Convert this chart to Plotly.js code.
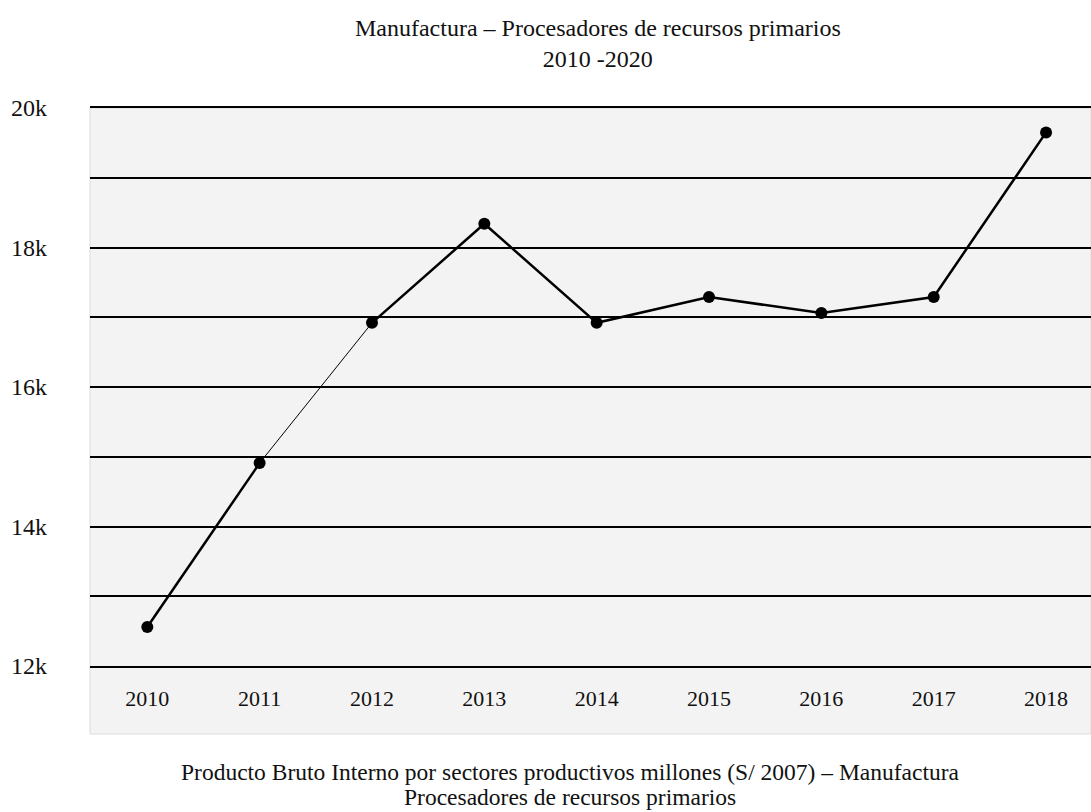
<!DOCTYPE html>
<html>
<head>
<meta charset="utf-8">
<script src="https://cdn.plot.ly/plotly-3.0.1.min.js"></script>
<style>html,body{margin:0;padding:0;background:#fff;}#chart{width:1091px;height:812px;}</style>
</head>
<body>
<div id="chart"></div>
<script>
// Data
const years = [2010, 2011, 2012, 2013, 2014, 2015, 2016, 2017, 2018];
const pbiValues = [12560, 14910, 16920, 18340, 16920, 17290, 17060, 17290, 19650];
const yTickVals = [12000, 13000, 14000, 15000, 16000, 17000, 18000, 19000, 20000];
const yTickText = ['12k', '', '14k', '', '16k', '', '18k', '', '20k'];
const titleText = 'Manufactura – Procesadores de recursos primarios<br>2010 -2020';
const captionLines = [
  'Producto Bruto Interno por sectores productivos millones (S/ 2007) – Manufactura',
  'Procesadores de recursos primarios'
];

const FONT = 'Liberation Serif, Times New Roman, serif';
const lineStyle = {color: '#000', width: 2.5};
const markerStyle = {color: '#000', size: 12};

const traces = [
  {x: years.slice(0, 2), y: pbiValues.slice(0, 2), mode: 'lines+markers', line: lineStyle, marker: markerStyle},
  {x: years.slice(1, 3), y: pbiValues.slice(1, 3), mode: 'lines', line: {color: '#000', width: 1}},
  {x: years.slice(2), y: pbiValues.slice(2), mode: 'lines+markers', line: lineStyle, marker: markerStyle}
];

const captionY = [772, 797];

const layout = {
  width: 1091, height: 812,
  margin: {l: 90, r: 0, t: 108, b: 146},
  paper_bgcolor: '#ffffff',
  plot_bgcolor: 'rgba(0,0,0,0)',
  showlegend: false,
  font: {family: FONT, color: '#111'},
  title: {
    text: titleText,
    font: {family: FONT, size: 24, color: '#111'},
    x: 0.548, xref: 'container', xanchor: 'center',
    y: 1 - 36/812, yref: 'container', yanchor: 'top'
  },
  xaxis: {
    type: 'linear',
    range: [2009.49, 2018.4],
    tickvals: years,
    ticktext: years.map(String),
    showgrid: false, zeroline: false,
    showline: true, linecolor: '#000', linewidth: 2, mirror: true,
    ticks: '', ticklabelstandoff: 12,
    tickfont: {family: FONT, size: 22, color: '#111'}
  },
  yaxis: {
    range: [12000, 20000],
    tickvals: yTickVals,
    ticktext: yTickText,
    showgrid: true, gridcolor: '#000', gridwidth: 2,
    zeroline: false, showline: false,
    ticks: '', ticklabelstandoff: 42,
    tickfont: {family: FONT, size: 24, color: '#111'}
  },
  shapes: [{
    type: 'rect', xref: 'paper', yref: 'paper', layer: 'below',
    x0: 0, x1: 1, y0: -(734 - 666) / 558, y1: 1,
    fillcolor: '#f3f3f3', line: {color: '#dcdcdc', width: 1}
  }],
  annotations: captionLines.map((t, i) => ({
    text: t, showarrow: false,
    xref: 'paper', yref: 'paper',
    x: (570 - 90) / 1001, xanchor: 'center',
    y: -(captionY[i] - 666) / 558, yanchor: 'middle',
    font: {family: FONT, size: 23.5, color: '#111'}
  }))
};

Plotly.newPlot('chart', traces, layout, {displayModeBar: false, staticPlot: true});
</script>
</body>
</html>
